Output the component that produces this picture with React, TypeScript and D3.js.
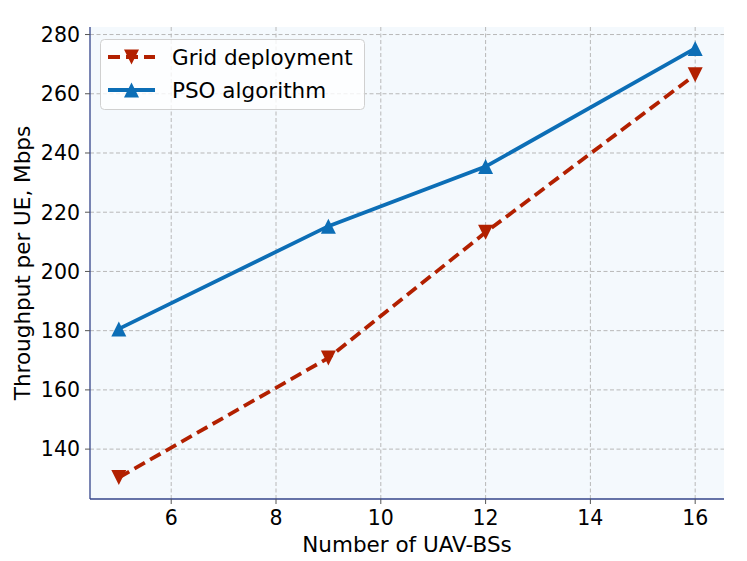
import React, { useEffect } from 'react';
import * as d3 from 'd3';

const uavCount = [5, 9, 12, 16];
const gridDeployment = [130.4, 170.8, 213.2, 266.4];
const psoAlgorithm = [180.6, 215.3, 235.4, 275.3];
const xTicks = [6, 8, 10, 12, 14, 16];
const yTicks = [140, 160, 180, 200, 220, 240, 260, 280];

const seriesList = [
    { name: 'Grid deployment', values: gridDeployment, color: '#b22000', dash: '12,6', down: true },
    { name: 'PSO algorithm', values: psoAlgorithm, color: '#0c6eb6', dash: null, down: false },
];

function pad(lo: number, hi: number): [number, number] {
    const m = (hi - lo) * 0.05;
    return [lo - m, hi + m];
}

function triangle(x: number, y: number, s: number, down: boolean) {
    const h = s / 2;
    const d = down ? 1 : -1;
    return `M${x},${y + d * h}L${x - h},${y - d * h}L${x + h},${y - d * h}Z`;
}

export default function App() {
    useEffect(() => {
        document.body.style.margin = '0';
    }, []);

    const width = 747;
    const height = 561;
    const margin = { top: 27, right: 23, bottom: 62, left: 90 };
    const font = 'DejaVu Sans, sans-serif';

    const allY = [...gridDeployment, ...psoAlgorithm];
    const x = d3
        .scaleLinear()
        .domain(pad(d3.min(uavCount)!, d3.max(uavCount)!))
        .range([margin.left, width - margin.right]);
    const y = d3
        .scaleLinear()
        .domain(pad(d3.min(allY)!, d3.max(allY)!))
        .range([height - margin.bottom, margin.top]);

    const line = d3
        .line<number>()
        .x((_, i) => x(uavCount[i]))
        .y((d) => y(d));

    const left = margin.left;
    const right = width - margin.right;
    const top = margin.top;
    const bottom = height - margin.bottom;
    const spine = '#34448a';

    return (
        <svg width={width} height={height} style={{ display: 'block' }}>
            <rect x={left} y={top} width={right - left} height={bottom - top} fill="#f4f9fd" />

            {xTicks.map((t) => (
                <line key={'gx' + t} x1={x(t)} x2={x(t)} y1={top} y2={bottom}
                      stroke="#b8b8b8" strokeWidth={1} strokeDasharray="4,2.5" />
            ))}
            {yTicks.map((t) => (
                <line key={'gy' + t} x1={left} x2={right} y1={y(t)} y2={y(t)}
                      stroke="#b8b8b8" strokeWidth={1} strokeDasharray="4,2.5" />
            ))}

            {seriesList.map((s) => (
                <g key={s.name}>
                    <path d={line(s.values)!} fill="none" stroke={s.color} strokeWidth={3.8}
                          strokeDasharray={s.dash ?? undefined} />
                    {s.values.map((v, i) => (
                        <path key={i} d={triangle(x(uavCount[i]), y(v), 15, s.down)} fill={s.color} />
                    ))}
                </g>
            ))}

            <line x1={left} x2={left} y1={top} y2={bottom} stroke={spine} strokeWidth={1.3} />
            <line x1={left} x2={right} y1={bottom} y2={bottom} stroke={spine} strokeWidth={1.3} />

            {xTicks.map((t) => (
                <g key={'tx' + t}>
                    <line x1={x(t)} x2={x(t)} y1={bottom} y2={bottom + 5} stroke="#555" strokeWidth={1} />
                    <text x={x(t)} y={525} textAnchor="middle" fontFamily={font} fontSize={20.5} fill="#000">
                        {t}
                    </text>
                </g>
            ))}
            {yTicks.map((t) => (
                <g key={'ty' + t}>
                    <line x1={left - 5} x2={left} y1={y(t)} y2={y(t)} stroke="#555" strokeWidth={1} />
                    <text x={left - 10} y={y(t)} dy="0.36em" textAnchor="end" fontFamily={font} fontSize={20.5} fill="#000">
                        {t}
                    </text>
                </g>
            ))}

            <text x={(left + right) / 2} y={552} textAnchor="middle" fontFamily={font} fontSize={21.5} fill="#000">
                Number of UAV-BSs
            </text>
            <text transform={`translate(30,${(top + bottom) / 2}) rotate(-90)`} textAnchor="middle"
                  fontFamily={font} fontSize={21.5} fill="#000">
                Throughput per UE, Mbps
            </text>

            <g>
                <rect x={100.5} y={39.5} width={264} height={70} rx={4} fill="#ffffff" fillOpacity={0.8}
                      stroke="#d0d0d0" strokeWidth={1} />
                {seriesList.map((s, i) => {
                    const ly = 57 + i * 33;
                    return (
                        <g key={'lg' + s.name}>
                            <line x1={108} x2={155} y1={ly} y2={ly} stroke={s.color} strokeWidth={3.8}
                                  strokeDasharray={s.dash ?? undefined} />
                            <path d={triangle(131.5, ly, 15, s.down)} fill={s.color} />
                            <text x={172} y={ly} dy="0.36em" fontFamily={font} fontSize={21.5} fill="#000">
                                {s.name}
                            </text>
                        </g>
                    );
                })}
            </g>
        </svg>
    );
}
